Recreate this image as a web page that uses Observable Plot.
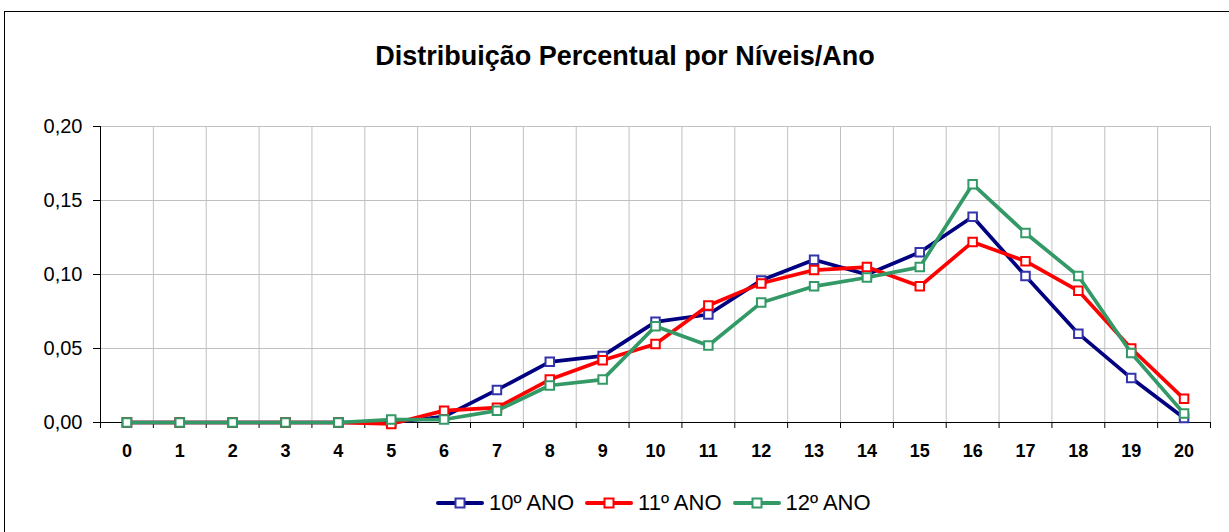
<!DOCTYPE html>
<html>
<head>
<meta charset="utf-8">
<script src="https://cdn.jsdelivr.net/npm/d3@7"></script>
<script src="https://cdn.jsdelivr.net/npm/@observablehq/plot@0.6"></script>
<style>
  html, body { margin: 0; padding: 0; background: #fff; }
  body { width: 1229px; height: 532px; overflow: hidden; position: relative; font-family: "Liberation Sans", Arial, sans-serif; }
  #border { position: absolute; left: 4px; top: 11px; width: 1240px; height: 540px; border: 1px solid #000; box-sizing: border-box; }
  #title { position: absolute; left: 0; width: 1250px; top: 41px; text-align: center; font-weight: bold; font-size: 27px; color: #000; white-space: nowrap; }
  #chart { position: absolute; left: 0; top: 0; }
  #legend { position: absolute; top: 490px; left: 436px; display: flex; gap: 11px; font-size: 22px; color: #000; white-space: nowrap; }
  .item { display: flex; align-items: center; gap: 5px; }
  .item svg { display: block; }
</style>
</head>
<body>
<div id="border"></div>
<div id="title">Distribuição Percentual por Níveis/Ano</div>
<div id="chart"></div>
<div id="legend"></div>
<script>
const categories = [0,1,2,3,4,5,6,7,8,9,10,11,12,13,14,15,16,17,18,19,20];
const seriesNames = ["10º ANO", "11º ANO", "12º ANO"];
const seriesColors = ["#000080", "#FF0000", "#339966"];
const markerStrokes = ["#3333AA", "#FF0000", "#339966"];
const ano10 = [0,0,0,0,0,0.000,0.004,0.022,0.041,0.045,0.068,0.073,0.096,0.110,0.100,0.115,0.139,0.099,0.060,0.030,0.003];
const ano11 = [0,0,0,0,0,-0.001,0.008,0.010,0.029,0.042,0.053,0.079,0.094,0.103,0.105,0.092,0.122,0.109,0.089,0.050,0.016];
const ano12 = [0,0,0,0,0,0.002,0.002,0.008,0.025,0.029,0.065,0.052,0.081,0.092,0.098,0.105,0.161,0.128,0.099,0.047,0.006];
const yTicks = [0, 0.05, 0.10, 0.15, 0.20];

const values = [ano10, ano11, ano12];
const data = [];
seriesNames.forEach((s, i) => categories.forEach((c, j) => data.push({serie: s, idx: i, cat: c, v: values[i][j]})));
const boundaries = categories.map(c => c - 0.5).concat([categories[categories.length - 1] + 0.5]);
const fmt = d => d3.format(".2f")(d).replace(".", ",");

const marks = [
  Plot.gridX(boundaries, {stroke: "#c0c0c0", strokeOpacity: 1, strokeWidth: 1}),
  Plot.gridY(yTicks, {stroke: "#c0c0c0", strokeOpacity: 1, strokeWidth: 1}),
  Plot.ruleX([boundaries[0]], {stroke: "#000", strokeWidth: 1}),
  Plot.ruleY([0], {stroke: "#000", strokeWidth: 1}),
  Plot.axisY({ticks: yTicks, tickFormat: fmt, tickSize: 7, tickPadding: 11, fontSize: 20, label: null, stroke: "#000"}),
  Plot.axisX({ticks: boundaries, tickFormat: () => "", tickSize: 6, label: null, stroke: "#000"}),
  Plot.axisX({ticks: categories, tickFormat: d => String(d), tickSize: 0, tickPadding: 22, fontSize: 18, fontWeight: "bold", label: null})
];
seriesNames.forEach((s, i) => {
  const d = data.filter(r => r.serie === s);
  marks.push(Plot.line(d, {x: "cat", y: "v", stroke: seriesColors[i], strokeWidth: 3.7, strokeLinejoin: "miter"}));
  marks.push(Plot.dot(d, {x: "cat", y: "v", symbol: "square", r: 4.8, fill: "#fff", stroke: markerStrokes[i], strokeWidth: 2}));
});

const chart = Plot.plot({
  width: 1229,
  height: 532,
  marginTop: 126,
  marginBottom: 110,
  marginLeft: 100,
  marginRight: 19,
  style: {fontFamily: "'Liberation Sans', Arial, sans-serif", color: "#000", background: "transparent"},
  x: {type: "linear", domain: [boundaries[0], boundaries[boundaries.length - 1]]},
  y: {domain: [0, 0.20]},
  marks
});
document.getElementById("chart").appendChild(chart);

const legend = document.getElementById("legend");
seriesNames.forEach((s, i) => {
  const item = document.createElement("div");
  item.className = "item";
  item.innerHTML = `<svg width="48" height="14"><line x1="2" y1="7" x2="46" y2="7" stroke="${seriesColors[i]}" stroke-width="4" stroke-linecap="round"/><rect x="19.5" y="2.5" width="9" height="9" fill="#fff" stroke="${markerStrokes[i]}" stroke-width="2"/></svg><span>${s}</span>`;
  legend.appendChild(item);
});
</script>
</body>
</html>
